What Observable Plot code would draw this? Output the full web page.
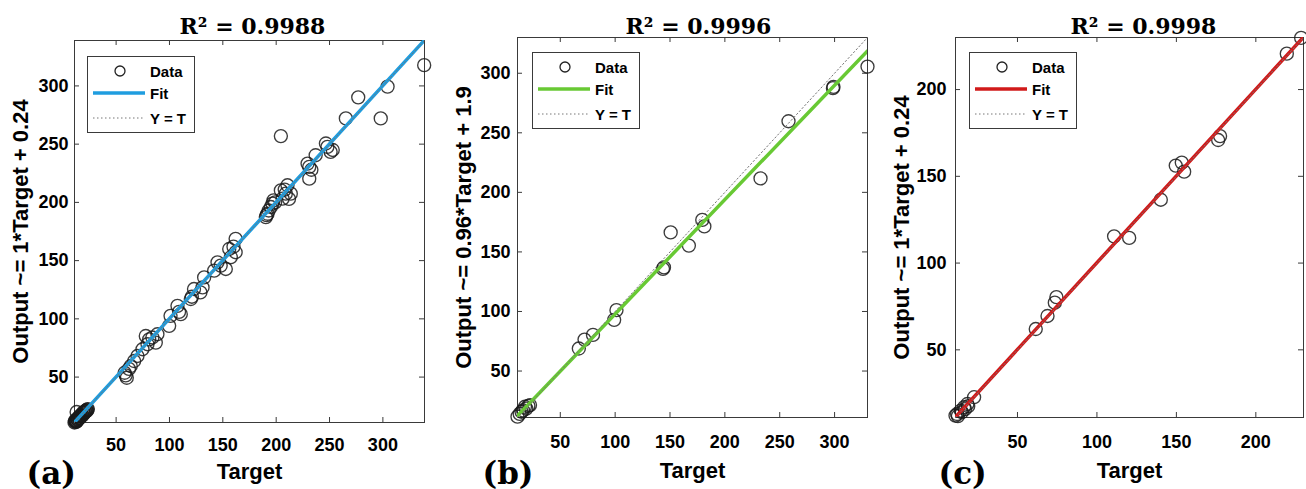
<!DOCTYPE html>
<html>
<head>
<meta charset="utf-8">
<script src="https://cdn.jsdelivr.net/npm/d3@7"></script>
<script src="https://cdn.jsdelivr.net/npm/@observablehq/plot@0.6"></script>
<style>
  html, body { margin: 0; padding: 0; background: #fff; }
  body { position: relative; width: 1306px; height: 489px; overflow: hidden; font-family: "Liberation Sans", Arial, sans-serif; }
  .legend { position: absolute; }
  .legend text { font-family: "Liberation Sans", Arial, sans-serif; font-size: 15px; font-weight: bold; fill: #000; }
</style>
</head>
<body>
<script>
// ---------- data ----------
const aTarget = [11, 11.5, 12, 12.5, 13, 13, 13.5, 14, 14.5, 15, 15.5, 16, 16.5, 17, 18, 18.5, 19, 20, 20.5, 21, 22, 22.5, 23,
  11.8, 12.8, 14.2, 15.8, 17.5, 19.5, 21.5, 23.5,
  58, 60, 59, 63.7, 66.9, 62, 70, 74.7, 79.4, 77.8, 81, 87.2, 88.7, 84, 99.7, 101, 107.5, 110.6, 109, 120, 121, 123, 129, 131, 132.5,
  141.9, 145, 148, 152.8, 156, 157.5, 162, 162, 160,
  190.3, 191, 191.9, 193, 195, 196.6, 197.5, 199,
  204.4, 206, 209, 210.6, 212, 213.7, 208, 204.4,
  229.4, 231, 231, 233, 237, 246.6, 248, 251, 253,
  265.3, 276.9, 298, 304.4, 338.7];
const aOutput = [11, 12.5, 11.5, 13, 12, 20, 14, 13, 15, 14.5, 16, 15, 17, 16.5, 18, 17, 19.5, 19, 20.5, 20, 21.5, 21, 22,
  12.2, 11.8, 13.6, 15.2, 16.8, 18.6, 20.8, 22.5,
  53.7, 49.4, 51.5, 59.5, 63.8, 57, 68.1, 73.9, 78.2, 85.3, 82.4, 79.6, 86.8, 84, 94, 102.6, 111.2, 104, 106, 117, 119, 125.6, 122.7, 127, 135.6,
  141.4, 148.5, 145.7, 142.8, 160, 152.9, 168.7, 157.2, 162,
  187.4, 189, 190.2, 193, 196, 198.9, 201.7, 200,
  210.3, 203.2, 207.5, 214.7, 203, 207.5, 211, 256.9,
  233.3, 230.5, 220.4, 228, 240.5, 250.6, 247.7, 243.4, 245,
  272.1, 290.2, 272.1, 299.4, 317.8];

const bTarget = [11, 13, 14.7, 16, 17.8, 19, 20.9, 22.4,
  66.9, 72.1, 79.8, 99.1, 101.2, 143.6, 144.5, 150.6, 167.2, 179.4, 181.3, 232.5, 258, 298.5, 299, 330];
const bOutput = [11.7, 14, 15.8, 17, 20, 18.5, 20.8, 21.4,
  68.9, 76.4, 80.3, 93, 101.1, 135.8, 137, 166.4, 155.3, 176.9, 171.4, 211.7, 259.7, 287.5, 288.5, 305.6];

const cTarget = [11, 12, 12.5, 14.3, 15, 16.4, 17, 18.5, 19, 22.7,
  61.5, 68.9, 73.5, 74.5, 110.8, 120.3, 140.2, 149.6, 153.4, 154.9, 176.3, 177.5, 219.5, 228.5];
const cOutput = [12.1, 13, 11.8, 15, 14, 16.9, 15.8, 18.8, 17.5, 22.7,
  62, 69.5, 77.2, 80.4, 115.4, 114.5, 136.5, 156.2, 157.9, 152.7, 170.9, 173.2, 220.7, 229.8];

const aTicks = [50, 100, 150, 200, 250, 300];
const bTicks = [50, 100, 150, 200, 250, 300];
const cTicks = [50, 100, 150, 200];

const titles = ["R² = 0.9988", "R² = 0.9996", "R² = 0.9998"];
const yLabels = ["Output ~= 1*Target + 0.24", "Output ~= 0.96*Target + 1.9", "Output ~= 1*Target + 0.24"];
const xLabel = "Target";
const tags = ["(a)", "(b)", "(c)"];
const legendLabels = ["Data", "Fit", "Y = T"];
const fitSlopes = [1, 0.96, 1];
const fitIntercepts = [0.24, 1.9, 0.24];
const limits = [[11, 339], [11, 330], [11, 230]];
const fitColors = ["#1f9ddf", "#68c934", "#d11a1a"];

// ---------- layout ----------
const targets = [aTarget, bTarget, cTarget];
const outputs = [aOutput, bOutput, cOutput];
const ticks = [aTicks, bTicks, cTicks];
const layout = [
  {left: 0,   width: 435, mL: 74, mR: 11, mT: 40, mB: 67, padX: 16, padY: 6, titleDx: 3,  titleDy: -7, tagDx: -48, tagDy: 61, targetDy: 56, legend: [87, 56]},
  {left: 435, width: 435, mL: 82, mR: 3,  mT: 37, mB: 72, padX: 18, padY: 7, titleDx: 6,  titleDy: -4, tagDx: -35, tagDy: 66, targetDy: 60, legend: [532, 52]},
  {left: 870, width: 436, mL: 85, mR: 3,  mT: 37, mB: 72, padX: 18, padY: 9, titleDx: 14, titleDy: -4, tagDx: -17, tagDy: 66, targetDy: 60, legend: [969, 52]}
];

const H = 489;
const axisColor = "#3a3a3a";

function panel(i) {
  const L = layout[i];
  const [d0, d1] = limits[i];
  const data = targets[i].map((t, j) => ({t, o: outputs[i][j]}));
  const pw = L.width - L.mL - L.mR;
  const ph = H - L.mT - L.mB;
  const tlx = (d1 - d0) * 5 / ph;   // tick length for x ticks (in y units)
  const tly = (d1 - d0) * 5 / pw;   // tick length for y ticks (in x units)
  const fit = [d0, d1].map(t => ({t, o: fitSlopes[i] * t + fitIntercepts[i]}));
  const diag = [{t: d0, o: d0}, {t: d1, o: d1}];
  const svg = Plot.plot({
    width: L.width,
    height: H,
    marginLeft: L.mL, marginRight: L.mR, marginTop: L.mT, marginBottom: L.mB,
    x: {domain: [d0, d1], ticks: ticks[i], tickSize: 0, tickPadding: L.padX, label: null},
    y: {domain: [d0, d1], ticks: ticks[i], tickSize: 0, tickPadding: L.padY, label: null},
    style: {fontFamily: "Liberation Sans, Arial, sans-serif", fontSize: "18px", fontWeight: "bold", color: "#000", background: "transparent", overflow: "visible"},
    marks: [
      Plot.frame({stroke: axisColor, strokeWidth: 1}),
      Plot.ruleX(ticks[i], {y1: d0, y2: d0 + tlx, stroke: axisColor}),
      Plot.ruleX(ticks[i], {y1: d1 - tlx, y2: d1, stroke: axisColor}),
      Plot.ruleY(ticks[i], {x1: d0, x2: d0 + tly, stroke: axisColor}),
      Plot.ruleY(ticks[i], {x1: d1 - tly, x2: d1, stroke: axisColor}),
      Plot.dot(data, {x: "t", y: "o", r: 6.5, stroke: "#1a1a1a", strokeWidth: 1.35, strokeOpacity: 0.85, fill: "none"}),
      Plot.line(fit, {x: "t", y: "o", stroke: fitColors[i], strokeWidth: 3.5, clip: true}),
      Plot.line(diag, {x: "t", y: "o", stroke: "#777", strokeWidth: 1, strokeDasharray: "1.5,2.5"}),
      Plot.text([titles[i]], {text: d => d, frameAnchor: "top", lineAnchor: "bottom", dx: L.titleDx, dy: L.titleDy,
        fontFamily: "DejaVu Serif, serif", fontSize: 22, fontWeight: "bold", fill: "#000"}),
      Plot.text([xLabel], {text: d => d, frameAnchor: "bottom", lineAnchor: "bottom", dy: L.targetDy,
        fontSize: 22, fontWeight: "bold", fill: "#000"}),
      Plot.text([yLabels[i]], {text: d => d, frameAnchor: "left", rotate: -90, textAnchor: "middle", lineAnchor: "middle", dx: -54,
        fontSize: 22, fontWeight: "bold", fill: "#000"}),
      Plot.text([tags[i]], {text: d => d, frameAnchor: "bottom-left", textAnchor: "start", lineAnchor: "bottom", dx: L.tagDx, dy: L.tagDy,
        fontFamily: "DejaVu Serif, serif", fontSize: 31, fontWeight: "bold", fill: "#000"})
    ]
  });
  svg.style.position = "absolute";
  svg.style.left = L.left + "px";
  svg.style.top = "0px";
  document.body.appendChild(svg);

  // legend box
  const [lx, ly] = L.legend;
  const div = document.createElement("div");
  div.className = "legend";
  div.style.left = lx + "px";
  div.style.top = ly + "px";
  div.innerHTML =
    `<svg width="109" height="78" xmlns="http://www.w3.org/2000/svg">
      <rect x="0.5" y="0.5" width="107" height="76" fill="#fff" stroke="${axisColor}" stroke-width="1"/>
      <circle cx="33" cy="15" r="5" fill="none" stroke="#222" stroke-width="1.3"/>
      <text x="63" y="20.5">${legendLabels[0]}</text>
      <line x1="6" x2="58" y1="37" y2="37" stroke="${fitColors[i]}" stroke-width="3.5"/>
      <text x="63" y="42.5">${legendLabels[1]}</text>
      <line x1="6" x2="58" y1="62" y2="62" stroke="#777" stroke-width="1" stroke-dasharray="1.5,2.5"/>
      <text x="63" y="67.5">${legendLabels[2]}</text>
    </svg>`;
  document.body.appendChild(div);
}

[0, 1, 2].forEach(panel);
</script>
</body>
</html>
